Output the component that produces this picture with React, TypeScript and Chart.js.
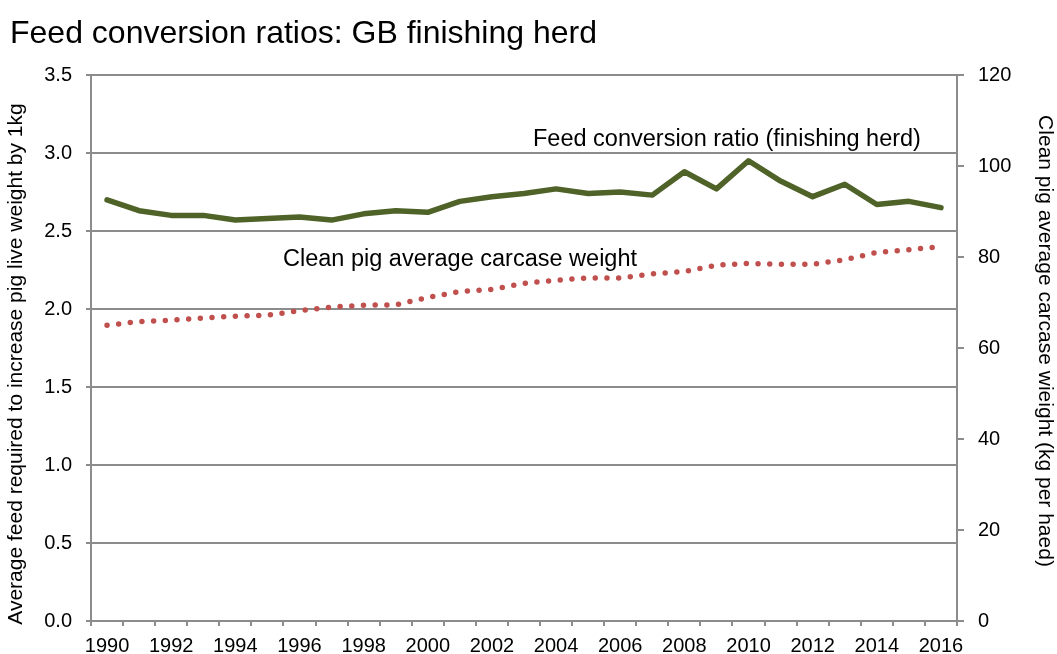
import React, { useEffect, useRef } from "react";
import { Chart, registerables } from "chart.js";

Chart.register(...registerables);

const years = [
  "1990","1991","1992","1993","1994","1995","1996","1997","1998","1999",
  "2000","2001","2002","2003","2004","2005","2006","2007","2008","2009",
  "2010","2011","2012","2013","2014","2015","2016",
];
const feedConversion = [
  2.70, 2.63, 2.60, 2.60, 2.57, 2.58, 2.59, 2.57, 2.61, 2.63,
  2.62, 2.69, 2.72, 2.74, 2.77, 2.74, 2.75, 2.73, 2.88, 2.77,
  2.95, 2.82, 2.72, 2.80, 2.67, 2.69, 2.65,
];
const carcaseWeight = [
  65.0, 65.8, 66.1, 66.6, 67.0, 67.2, 68.2, 69.0, 69.4, 69.5,
  71.1, 72.4, 72.9, 74.2, 74.9, 75.4, 75.4, 76.3, 76.8, 78.2,
  78.6, 78.4, 78.4, 79.4, 81.0, 81.6, 82.3,
];
const leftTicks = [0, 0.5, 1, 1.5, 2, 2.5, 3, 3.5];
const rightTicks = [0, 20, 40, 60, 80, 100, 120];

const chartTitle = "Feed conversion ratios: GB finishing herd";
const leftAxisTitle = "Average feed required to increase pig live weight by 1kg";
const rightAxisTitle = "Clean pig average carcase wieight (kg per haed)";
const fcrLabel = "Feed conversion ratio (finishing herd)";
const weightLabel = "Clean pig average carcase weight";

const FONT = "'Liberation Sans', Arial, sans-serif";
const GRID = "#8c8c8c";

const textPlugin = {
  id: "texts",
  afterDraw(chart: any) {
    const ctx = chart.ctx;
    ctx.save();
    ctx.fillStyle = "#000";
    ctx.textBaseline = "alphabetic";
    ctx.textAlign = "left";
    ctx.font = `32px ${FONT}`;
    ctx.fillText(chartTitle, 10, 43);
    ctx.font = `23.5px ${FONT}`;
    ctx.fillText(fcrLabel, 533, 146);
    ctx.fillText(weightLabel, 283, 266);

    ctx.font = `21px ${FONT}`;
    ctx.textAlign = "center";
    ctx.textBaseline = "middle";
    ctx.save();
    ctx.translate(16, 364);
    ctx.rotate(-Math.PI / 2);
    ctx.fillText(leftAxisTitle, 0, 0);
    ctx.restore();
    ctx.save();
    ctx.translate(1045, 341);
    ctx.rotate(Math.PI / 2);
    ctx.fillText(rightAxisTitle, 0, 0);
    ctx.restore();
    ctx.restore();
  },
};

export default function App() {
  const ref = useRef<HTMLCanvasElement>(null);
  useEffect(() => {
    document.body.style.margin = "0";
    const chart = new Chart(ref.current!, {
      type: "line",
      data: {
        labels: years,
        datasets: [
          {
            label: fcrLabel,
            data: feedConversion,
            yAxisID: "y",
            borderColor: "#4f6228",
            borderWidth: 5.5,
            borderJoinStyle: "round",
            borderCapStyle: "round",
            pointRadius: 0,
            tension: 0,
          },
          {
            label: weightLabel,
            data: carcaseWeight,
            yAxisID: "y1",
            borderColor: "#c0504d",
            borderWidth: 5.5,
            borderCapStyle: "round",
            borderDash: [0, 11.7],
            pointRadius: 0,
            tension: 0,
          },
        ],
      },
      options: {
        responsive: false,
        animation: false,
        devicePixelRatio: 1,
        layout: { padding: { top: 75, left: 0, right: 0, bottom: 0 } },
        plugins: {
          legend: { display: false },
          title: { display: false },
          tooltip: { enabled: false },
        },
        scales: {
          x: {
            type: "category",
            offset: true,
            grid: {
              offset: true,
              drawOnChartArea: false,
              tickLength: 5,
              color: GRID,
              lineWidth: 2,
            },
            border: { display: true, color: GRID, width: 2 },
            ticks: {
              autoSkip: false,
              maxRotation: 0,
              minRotation: 0,
              padding: 8,
              color: "#000",
              font: { family: FONT, size: 20 },
              callback: (_v: any, i: number) => (i % 2 === 0 ? years[i] : ""),
            },
            afterFit: (s: any) => {
              s.height = 33;
            },
          },
          y: {
            position: "left",
            min: 0,
            max: 3.5,
            afterBuildTicks: (s: any) => {
              s.ticks = leftTicks.map((v) => ({ value: v }));
            },
            grid: { color: GRID, lineWidth: 2, tickLength: 5 },
            border: { display: true, color: GRID, width: 2 },
            ticks: {
              padding: 14,
              color: "#000",
              font: { family: FONT, size: 20 },
              callback: (v: any) => Number(v).toFixed(1),
            },
            afterFit: (s: any) => {
              s.width = 91;
            },
          },
          y1: {
            position: "right",
            min: 0,
            max: 120,
            afterBuildTicks: (s: any) => {
              s.ticks = rightTicks.map((v) => ({ value: v }));
            },
            grid: {
              drawOnChartArea: false,
              color: GRID,
              lineWidth: 2,
              tickLength: 7,
            },
            border: { display: true, color: GRID, width: 2 },
            ticks: {
              padding: 14,
              color: "#000",
              font: { family: FONT, size: 20 },
              callback: (v: any) => String(v),
            },
            afterFit: (s: any) => {
              s.width = 100;
            },
          },
        },
      },
      plugins: [textPlugin],
    });
    return () => chart.destroy();
  }, []);
  return (
    <div style={{ position: "absolute", left: 0, top: 0, width: 1057, height: 654 }}>
      <canvas ref={ref} width={1057} height={654} style={{ display: "block" }} />
    </div>
  );
}
